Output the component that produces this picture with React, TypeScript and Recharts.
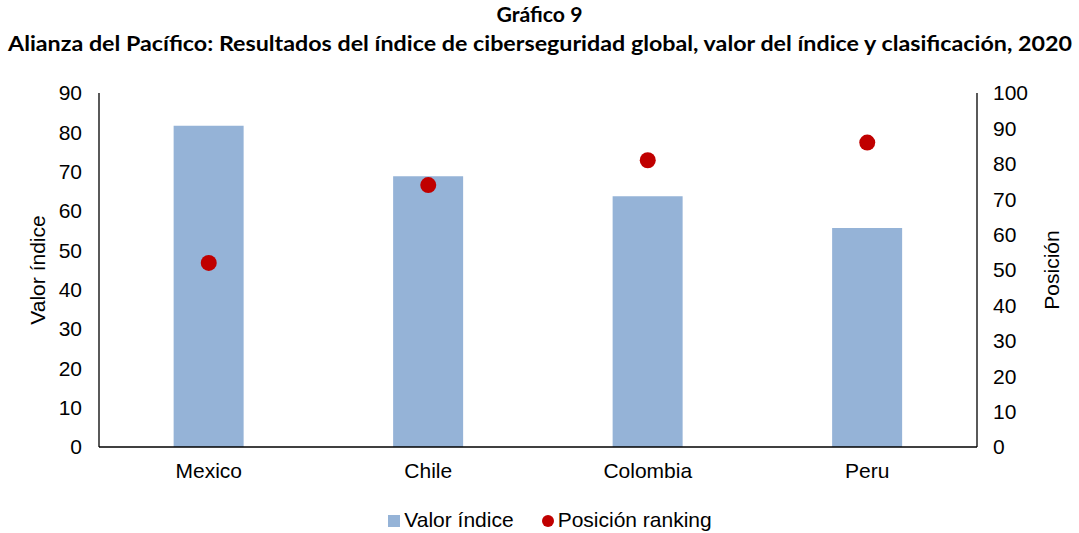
import React from 'react';
import { ComposedChart, Bar, Scatter, XAxis, YAxis, Legend, Label } from 'recharts';

const countries = ['Mexico', 'Chile', 'Colombia', 'Peru'];
const valorIndice = [81.68, 68.83, 63.72, 55.67];
const posicionRanking = [52, 74, 81, 86];
const leftTicks = [0, 10, 20, 30, 40, 50, 60, 70, 80, 90];
const rightTicks = [0, 10, 20, 30, 40, 50, 60, 70, 80, 90, 100];

const data = countries.map((c, i) => ({ country: c, valor: valorIndice[i], posicion: posicionRanking[i] }));

const FONT = '"Liberation Sans", Arial, sans-serif';
const TITLE_FONT = 'Lato, "Open Sans", sans-serif';
const FS = 21;

export default function App() {
  return (
    <div style={{ position: 'absolute', left: 0, top: 0, width: 1079, height: 533, background: '#fff' }}>
      <svg width={1079} height={60} style={{ position: 'absolute', left: 0, top: 0 }}>
        <text x={539.5} y={22} textAnchor="middle" fontFamily={TITLE_FONT} fontWeight={700} fontSize={20} fill="#000"
          textLength={86} lengthAdjust="spacingAndGlyphs">Gráfico 9</text>
        <text x={540} y={51} textAnchor="middle" fontFamily={TITLE_FONT} fontWeight={700} fontSize={20} fill="#000"
          textLength={1064} lengthAdjust="spacingAndGlyphs">Alianza del Pacífico: Resultados del índice de ciberseguridad global, valor del índice y clasificación, 2020</text>
      </svg>
      <div style={{ position: 'absolute', left: 0, top: 0 }}>
        <ComposedChart width={1079} height={533} data={data} margin={{ top: 93, right: 42, bottom: 20, left: 39 }} barCategoryGap="34%">
          <XAxis dataKey="country" tickLine={false} axisLine={{ stroke: '#000', strokeWidth: 1.3 }} height={36} tickMargin={10}
            tick={{ fontFamily: FONT, fontSize: FS, fill: '#000' }} interval={0} />
          <YAxis yAxisId="left" orientation="left" domain={[0, 90]} ticks={leftTicks} width={60} tickLine={false}
            axisLine={{ stroke: '#000', strokeWidth: 1.3 }} tickMargin={11} tick={{ fontFamily: FONT, fontSize: FS, fill: '#000' }}>
            <Label value="Valor índice" angle={-90} position="insideLeft" offset={-1} style={{ fontFamily: FONT, fontSize: FS, fill: '#000', textAnchor: 'middle' }} />
          </YAxis>
          <YAxis yAxisId="right" orientation="right" domain={[0, 100]} ticks={rightTicks} width={60} tickLine={false}
            axisLine={{ stroke: '#000', strokeWidth: 1.3 }} tickMargin={10} tick={{ fontFamily: FONT, fontSize: FS, fill: '#000' }}>
            <Label value="Posición" angle={-90} position="insideRight" offset={-15} style={{ fontFamily: FONT, fontSize: FS, fill: '#000', textAnchor: 'middle' }} />
          </YAxis>
          <Bar yAxisId="left" dataKey="valor" name="Valor índice" fill="#95B3D7" isAnimationActive={false} legendType="square" />
          <Scatter yAxisId="right" dataKey="posicion" name="Posición ranking" fill="#C00000" isAnimationActive={false} legendType="circle"
            shape={(p: any) => <circle cx={p.cx} cy={p.cy} r={8} fill="#C00000" />} />
          <Legend verticalAlign="bottom" iconSize={12} height={30}
            itemSorter={(item: any) => (item.value === 'Valor índice' ? 0 : 1)}
            wrapperStyle={{ fontFamily: FONT, fontSize: FS, color: '#000', top: 508, bottom: 'auto', paddingLeft: 34, boxSizing: 'border-box' }}
            formatter={(v: string) => <span style={{ color: '#000', fontSize: FS, marginRight: v === 'Valor índice' ? 18 : 0 }}>{v}</span>} />
        </ComposedChart>
      </div>
    </div>
  );
}
